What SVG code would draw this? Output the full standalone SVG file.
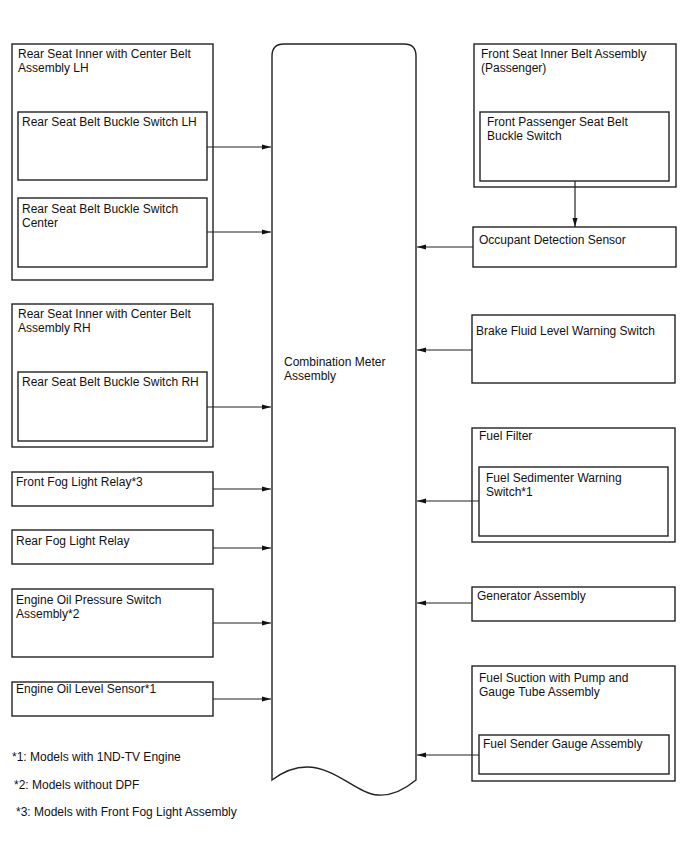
<svg xmlns="http://www.w3.org/2000/svg" width="688" height="852" viewBox="0 0 688 852">
<style>
.b{fill:#fff;stroke:#222;stroke-width:1.4}
.t{font-family:"Liberation Sans",Arial,sans-serif;font-size:12px;fill:#111}
.c{fill:none;stroke:#222;stroke-width:1.2}
</style>
<defs>
<marker id="ah" markerWidth="9" markerHeight="6" refX="9" refY="3" orient="auto" markerUnits="userSpaceOnUse">
<path d="M0,0.5 L9,3 L0,5.5 z" fill="#111"/>
</marker>
</defs>
<rect width="688" height="852" fill="#fff"/>

<g id="meter">
<path class="b" d="M272,56 Q272,44 284,44 L404,44 Q416,44 416,56 L416,780 C404,790 392,796 378,795 C358,794 335,767 307,767 C292,767 280,774 272,780 Z"/>
<text class="t" x="284" y="366">Combination Meter</text>
<text class="t" x="284" y="380">Assembly</text>
</g>

<g id="rear-lh-assy">
<rect class="b" x="12" y="44" width="201" height="236"/>
<text class="t" x="18" y="58">Rear Seat Inner with Center Belt</text>
<text class="t" x="18" y="72">Assembly LH</text>
</g>
<g id="rear-lh-switch">
<rect class="b" x="18" y="112" width="189" height="68"/>
<text class="t" x="22" y="126">Rear Seat Belt Buckle Switch LH</text>
</g>
<g id="rear-center-switch">
<rect class="b" x="18" y="198" width="189" height="69"/>
<text class="t" x="22" y="213">Rear Seat Belt Buckle Switch</text>
<text class="t" x="22" y="227">Center</text>
</g>

<g id="rear-rh-assy">
<rect class="b" x="12" y="304" width="201" height="143"/>
<text class="t" x="18" y="318">Rear Seat Inner with Center Belt</text>
<text class="t" x="18" y="332">Assembly RH</text>
</g>
<g id="rear-rh-switch">
<rect class="b" x="18" y="372" width="189" height="69"/>
<text class="t" x="22" y="386">Rear Seat Belt Buckle Switch RH</text>
</g>

<g id="front-fog">
<rect class="b" x="12" y="472" width="201" height="34"/>
<text class="t" x="16" y="486">Front Fog Light Relay*3</text>
</g>
<g id="rear-fog">
<rect class="b" x="12" y="530" width="201" height="34"/>
<text class="t" x="16" y="545">Rear Fog Light Relay</text>
</g>
<g id="oil-pressure">
<rect class="b" x="12" y="589" width="201" height="68"/>
<text class="t" x="16" y="604">Engine Oil Pressure Switch</text>
<text class="t" x="16" y="618">Assembly*2</text>
</g>
<g id="oil-level">
<rect class="b" x="12" y="682" width="201" height="34"/>
<text class="t" x="16" y="693">Engine Oil Level Sensor*1</text>
</g>

<g id="front-seat-assy">
<rect class="b" x="474" y="44" width="202" height="143"/>
<text class="t" x="481" y="58">Front Seat Inner Belt Assembly</text>
<text class="t" x="481" y="72">(Passenger)</text>
</g>
<g id="front-pass-switch">
<rect class="b" x="480" y="112" width="189" height="69"/>
<text class="t" x="487" y="126">Front Passenger Seat Belt</text>
<text class="t" x="487" y="140">Buckle Switch</text>
</g>
<g id="occupant">
<rect class="b" x="473" y="227" width="203" height="40"/>
<text class="t" x="479" y="244">Occupant Detection Sensor</text>
</g>
<g id="brake">
<rect class="b" x="472" y="315" width="203" height="68"/>
<text class="t" x="476" y="335">Brake Fluid Level Warning Switch</text>
</g>
<g id="fuel-filter">
<rect class="b" x="472" y="428" width="203" height="114"/>
<text class="t" x="479" y="440">Fuel Filter</text>
</g>
<g id="sedimenter">
<rect class="b" x="479" y="467" width="189" height="69"/>
<text class="t" x="486" y="482">Fuel Sedimenter Warning</text>
<text class="t" x="486" y="496">Switch*1</text>
</g>
<g id="generator">
<rect class="b" x="472" y="587" width="203" height="34"/>
<text class="t" x="477" y="600">Generator Assembly</text>
</g>
<g id="fuel-suction">
<rect class="b" x="472" y="666" width="203" height="115"/>
<text class="t" x="479" y="682">Fuel Suction with Pump and</text>
<text class="t" x="479" y="696">Gauge Tube Assembly</text>
</g>
<g id="fuel-sender">
<rect class="b" x="479" y="735" width="190" height="39"/>
<text class="t" x="483" y="748">Fuel Sender Gauge Assembly</text>
</g>

<g id="connectors">
<line class="c" x1="207" y1="147" x2="271" y2="147" marker-end="url(#ah)"/>
<line class="c" x1="207" y1="232" x2="271" y2="232" marker-end="url(#ah)"/>
<line class="c" x1="207" y1="407" x2="271" y2="407" marker-end="url(#ah)"/>
<line class="c" x1="213" y1="489" x2="271" y2="489" marker-end="url(#ah)"/>
<line class="c" x1="213" y1="548" x2="271" y2="548" marker-end="url(#ah)"/>
<line class="c" x1="213" y1="623" x2="271" y2="623" marker-end="url(#ah)"/>
<line class="c" x1="213" y1="699" x2="271" y2="699" marker-end="url(#ah)"/>
<line class="c" x1="575" y1="181" x2="575" y2="227" marker-end="url(#ah)"/>
<line class="c" x1="473" y1="247" x2="417" y2="247" marker-end="url(#ah)"/>
<line class="c" x1="472" y1="350" x2="417" y2="350" marker-end="url(#ah)"/>
<line class="c" x1="479" y1="501" x2="417" y2="501" marker-end="url(#ah)"/>
<line class="c" x1="472" y1="603" x2="417" y2="603" marker-end="url(#ah)"/>
<line class="c" x1="479" y1="755" x2="417" y2="755" marker-end="url(#ah)"/>
</g>

<g id="notes">
<text class="t" x="12" y="761">*1: Models with 1ND-TV Engine</text>
<text class="t" x="14" y="789">*2: Models without DPF</text>
<text class="t" x="16" y="816">*3: Models with Front Fog Light Assembly</text>
</g>
</svg>
